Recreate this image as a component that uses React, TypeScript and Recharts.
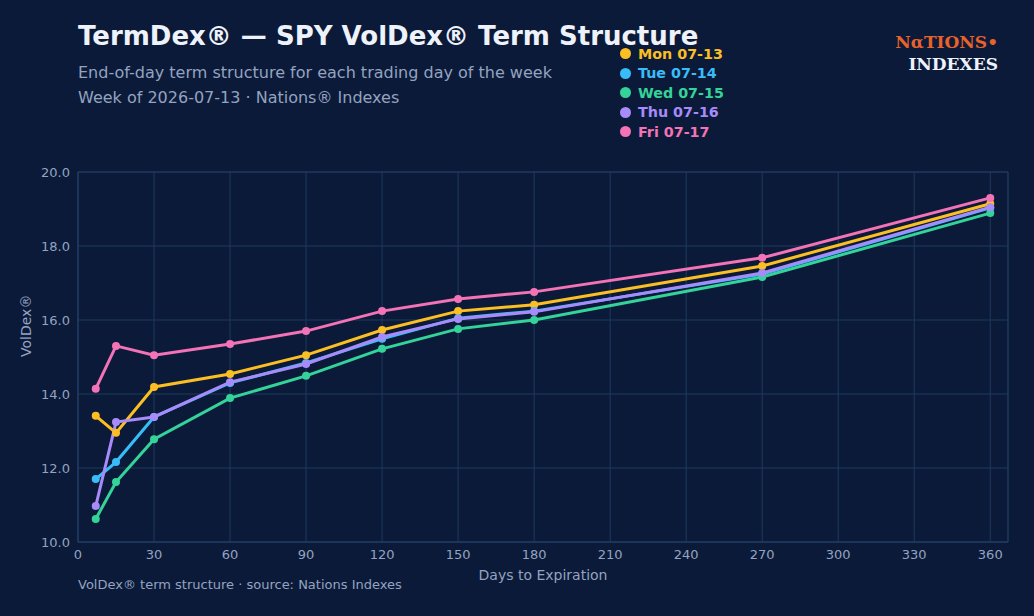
import React from "react";
import { LineChart, Line, XAxis, YAxis, CartesianGrid, ReferenceArea } from "recharts";

const days = [7, 15, 30, 60, 90, 120, 150, 180, 270, 360];
const mon = [13.41, 12.95, 14.19, 14.54, 15.05, 15.73, 16.24, 16.41, 17.46, 19.14];
const tue = [11.7, 12.16, 13.38, 14.3, 14.84, 15.49, 16.05, 16.24, 17.24, 19.03];
const wed = [10.62, 11.62, 12.78, 13.89, 14.49, 15.22, 15.76, 16.0, 17.16, 18.89];
const thu = [10.97, 13.24, 13.38, 14.32, 14.81, 15.54, 16.03, 16.22, 17.27, 19.05];
const fri = [14.14, 15.3, 15.05, 15.35, 15.7, 16.24, 16.57, 16.76, 17.68, 19.3];
const xTicks = [0, 30, 60, 90, 120, 150, 180, 210, 240, 270, 300, 330, 360];
const yTicks = [10, 12, 14, 16, 18, 20];

const series = [
  { key: "mon", name: "Mon 07-13", color: "#fbbf24", vals: mon },
  { key: "tue", name: "Tue 07-14", color: "#38bdf8", vals: tue },
  { key: "wed", name: "Wed 07-15", color: "#34d399", vals: wed },
  { key: "thu", name: "Thu 07-16", color: "#a78bfa", vals: thu },
  { key: "fri", name: "Fri 07-17", color: "#f472b6", vals: fri },
];
const data = days.map((d, i) => {
  const row: any = { d };
  series.forEach((s) => (row[s.key] = s.vals[i]));
  return row;
});

const BG = "#0b1a38";
const GRID = "#1e3a5f";
const TXT = "#94a3c0";
const font = "DejaVu Sans, sans-serif";

export default function App() {
  return (
    <div style={{ position: "absolute", left: 0, top: 0, width: 1034, height: 616, background: BG, fontFamily: font, overflow: "hidden" }}>
      <div style={{ position: "absolute", left: 78, top: 21, fontSize: 26, fontWeight: "bold", color: "#eef2fb" }}>
        TermDex® — SPY VolDex® Term Structure
      </div>
      <div style={{ position: "absolute", left: 78, top: 63, fontSize: 16, color: TXT }}>End-of-day term structure for each trading day of the week</div>
      <div style={{ position: "absolute", left: 78, top: 88, fontSize: 16, color: TXT }}>Week of 2026-07-13 · Nations® Indexes</div>
      <div style={{ position: "absolute", left: 620, top: 44 }}>
        {series.map((s) => (
          <div key={s.key} style={{ display: "flex", alignItems: "center", height: 19.5, fontSize: 14.3, fontWeight: "bold", color: s.color }}>
            <span style={{ display: "inline-block", width: 11, height: 11, borderRadius: 6, background: s.color, marginRight: 7 }} />
            {s.name}
          </div>
        ))}
      </div>
      <div style={{ position: "absolute", right: 36, top: 31, textAlign: "right", fontFamily: "DejaVu Serif, serif", fontWeight: "bold", fontSize: 17, lineHeight: "22px" }}>
        <div style={{ color: "#e8622a" }}>NαTIONS•</div>
        <div style={{ color: "#eef2fb" }}>INDEXES</div>
      </div>
      <div style={{ position: "absolute", left: 0, top: 0 }}>
        <LineChart width={1034} height={616} data={data} margin={{ top: 172, right: 26, bottom: 0, left: 0 }}>
          <CartesianGrid stroke={GRID} strokeWidth={1} />
          <ReferenceArea x1={0} x2={367} y1={10} y2={20} fill="none" stroke={GRID} ifOverflow="extendDomain" />
          <XAxis dataKey="d" type="number" domain={[0, 367]} ticks={xTicks} height={74} stroke={GRID} tickLine={false}
            tick={{ fill: TXT, fontSize: 13, fontFamily: font }}
            label={{ value: "Days to Expiration", position: "insideTop", offset: 28, fill: TXT, fontSize: 14, fontFamily: font }} />
          <YAxis type="number" domain={[10, 20]} ticks={yTicks} width={78} stroke={GRID} tickLine={false}
            tickFormatter={(v) => v.toFixed(1)} tick={{ fill: TXT, fontSize: 13, fontFamily: font }}
            label={{ value: "VolDex®", angle: -90, position: "insideLeft", offset: 26, fill: TXT, fontSize: 14, fontFamily: font }} />
          {series.map((s) => (
            <Line key={s.key} dataKey={s.key} stroke={s.color} strokeWidth={3} isAnimationActive={false}
              dot={{ r: 4, fill: s.color, stroke: s.color, strokeWidth: 0 }} />
          ))}
        </LineChart>
      </div>
      <div style={{ position: "absolute", left: 78, top: 577, fontSize: 13, color: TXT }}>VolDex® term structure · source: Nations Indexes</div>
    </div>
  );
}
